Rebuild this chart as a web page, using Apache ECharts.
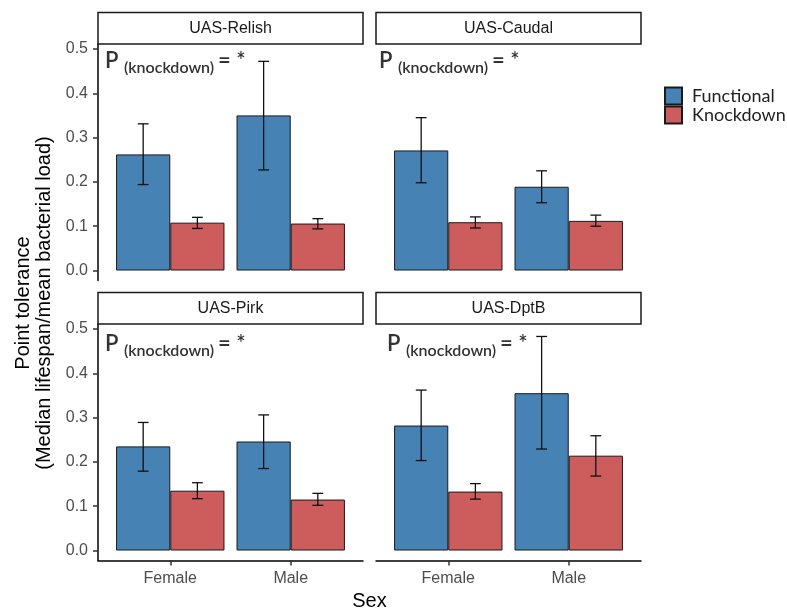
<!DOCTYPE html>
<html><head><meta charset="utf-8">
<script src="https://cdn.jsdelivr.net/npm/echarts@6/dist/echarts.min.js"></script>
<style>html,body{margin:0;padding:0;background:#fff}#c{width:787px;height:612px}</style>
</head><body><div id="c"></div>
<script>
// ---- data ----
const panels = ['UAS-Relish', 'UAS-Caudal', 'UAS-Pirk', 'UAS-DptB'];
const sexes = ['Female', 'Male'];
const groups = ['Functional', 'Knockdown'];
const yTicks = [0, 0.1, 0.2, 0.3, 0.4, 0.5];
// per panel: [Female, Male]
const functionalMean = [[0.262, 0.350], [0.271, 0.189], [0.235, 0.246], [0.282, 0.355]];
const functionalLow  = [[0.194, 0.227], [0.198, 0.153], [0.179, 0.185], [0.203, 0.229]];
const functionalHigh = [[0.331, 0.472], [0.345, 0.225], [0.289, 0.306], [0.362, 0.483]];
const knockdownMean  = [[0.108, 0.106], [0.109, 0.112], [0.135, 0.115], [0.133, 0.214]];
const knockdownLow   = [[0.095, 0.094], [0.096, 0.100], [0.117, 0.102], [0.116, 0.168]];
const knockdownHigh  = [[0.120, 0.117], [0.121, 0.125], [0.153, 0.129], [0.151, 0.259]];
const annotationMain = 'P';
const annotationSub = '(knockdown)';
const annotationEnd = '= *';

// ---- layout / style ----
const FONT = '"Liberation Sans", Arial, sans-serif';
const FONT2 = 'Lato, "Open Sans", sans-serif';
const COLORS = ['#4682b4', '#cd5c5c'];
const GL = [98, 376, 98, 376];
const GT = [44.5, 44.5, 324.5, 324.5];
const GW = 265, GH = 236;
const ANN = [[7, 9], [3, 9], [7, 12.5], [11, 12.5]];
const BAR_FRAC = 0.45, CAP = 0.045;
const means = [functionalMean, knockdownMean];
const lows = [functionalLow, knockdownLow];
const highs = [functionalHigh, knockdownHigh];

const grid = [], xAxis = [], yAxis = [], series = [], graphic = [];
panels.forEach((name, p) => {
  const left = p % 2 === 0, bottom = p >= 2;
  grid.push({left: GL[p], top: GT[p], width: GW, height: GH});
  xAxis.push({
    gridIndex: p, type: 'value', min: 0.4, max: 2.6,
    axisLine: {show: bottom, onZero: false, lineStyle: {color: '#000', width: 1.5}},
    axisTick: {show: bottom, customValues: [1, 2], length: 5, lineStyle: {color: '#333', width: 1.5}},
    axisLabel: {show: bottom, customValues: [1, 2], formatter: v => sexes[Math.round(v) - 1],
      color: '#4d4d4d', fontSize: 16, fontFamily: FONT, margin: 10},
    splitLine: {show: false}
  });
  yAxis.push({
    gridIndex: p, type: 'value', min: -0.0225, max: 0.51,
    axisLine: {show: left, onZero: false, lineStyle: {color: '#000', width: 1.5}},
    axisTick: {show: left, customValues: yTicks, length: 5, lineStyle: {color: '#333', width: 1.5}},
    axisLabel: {show: left, customValues: yTicks, formatter: v => v.toFixed(1),
      color: '#4d4d4d', fontSize: 16, fontFamily: FONT, margin: 10},
    splitLine: {show: false}
  });
  groups.forEach((g, gi) => {
    series.push({
      type: 'bar', name: g, xAxisIndex: p, yAxisIndex: p,
      data: sexes.map((s, i) => [i + 1, means[gi][p][i]]),
      barWidth: (BAR_FRAC * 100) + '%', barGap: '0%',
      itemStyle: {color: COLORS[gi], borderColor: '#1a1a1a', borderWidth: 1},
      emphasis: {disabled: true}, animation: false
    });
  });
  const err = [];
  groups.forEach((g, gi) => sexes.forEach((s, i) => {
    err.push([i + 1 + (gi === 0 ? -BAR_FRAC / 2 : BAR_FRAC / 2), lows[gi][p][i], highs[gi][p][i]]);
  }));
  series.push({
    type: 'custom', xAxisIndex: p, yAxisIndex: p, data: err, z: 10, animation: false,
    renderItem: (params, api) => {
      const x = api.value(0), lo = api.value(1), hi = api.value(2);
      const a = api.coord([x, lo]), b = api.coord([x, hi]);
      const l1 = api.coord([x - CAP, hi]), r1 = api.coord([x + CAP, hi]);
      const l2 = api.coord([x - CAP, lo]), r2 = api.coord([x + CAP, lo]);
      const st = {stroke: '#111', lineWidth: 1.3, fill: null};
      return {type: 'group', children: [
        {type: 'line', shape: {x1: a[0], y1: a[1], x2: b[0], y2: b[1]}, style: st},
        {type: 'line', shape: {x1: l1[0], y1: l1[1], x2: r1[0], y2: r1[1]}, style: st},
        {type: 'line', shape: {x1: l2[0], y1: l2[1], x2: r2[0], y2: r2[1]}, style: st}
      ]};
    }
  });
  // strip
  graphic.push({type: 'rect', shape: {x: GL[p], y: GT[p] - 32, width: GW, height: 31.5},
    style: {fill: '#fff', stroke: '#1a1a1a', lineWidth: 1.5}, z: 5});
  graphic.push({type: 'text', x: GL[p] + GW / 2, y: GT[p] - 16, z: 6,
    style: {text: name, font: '16px ' + FONT, fill: '#1a1a1a', align: 'center', verticalAlign: 'middle'}});
  // annotation
  graphic.push({type: 'text', x: GL[p] + ANN[p][0], y: GT[p] + ANN[p][1], z: 6,
    style: {
      text: '{p|' + annotationMain + ' }{s|' + annotationSub + ' }{e|' + annotationEnd + '}',
      rich: {
        p: {font: '600 22px ' + FONT2, fill: '#333', verticalAlign: 'bottom', lineHeight: 22, padding: [0, 0, 4, 0]},
        s: {font: '600 16px ' + FONT2, fill: '#333', verticalAlign: 'bottom', lineHeight: 16},
        e: {font: '600 22px ' + FONT2, fill: '#333', verticalAlign: 'bottom', lineHeight: 22, padding: [0, 0, 4, 0]}
      }
    }});
});
// axis titles
graphic.push({type: 'text', x: 34, y: 303, rotation: Math.PI / 2,
  style: {text: 'Point tolerance\n(Median lifespan/mean bacterial load)', font: '20px ' + FONT,
    fill: '#000', align: 'center', verticalAlign: 'middle', lineHeight: 21}});
graphic.push({type: 'text', x: 369.5, y: 601,
  style: {text: 'Sex', font: '20px ' + FONT, fill: '#000', align: 'center', verticalAlign: 'middle'}});

const chart = echarts.init(document.getElementById('c'), null, {renderer: 'canvas'});
chart.setOption({
  backgroundColor: '#fff', animation: false,
  grid, xAxis, yAxis, series, graphic,
  legend: {
    data: groups, orient: 'vertical', left: 664, top: 86.5, padding: 0, itemWidth: 17, itemHeight: 17,
    itemGap: 0, icon: 'rect', selectedMode: false,
    textStyle: {fontFamily: FONT2, fontSize: 18, color: '#222', padding: [0, 0, 0, 5]}
  }
});
</script></body></html>
